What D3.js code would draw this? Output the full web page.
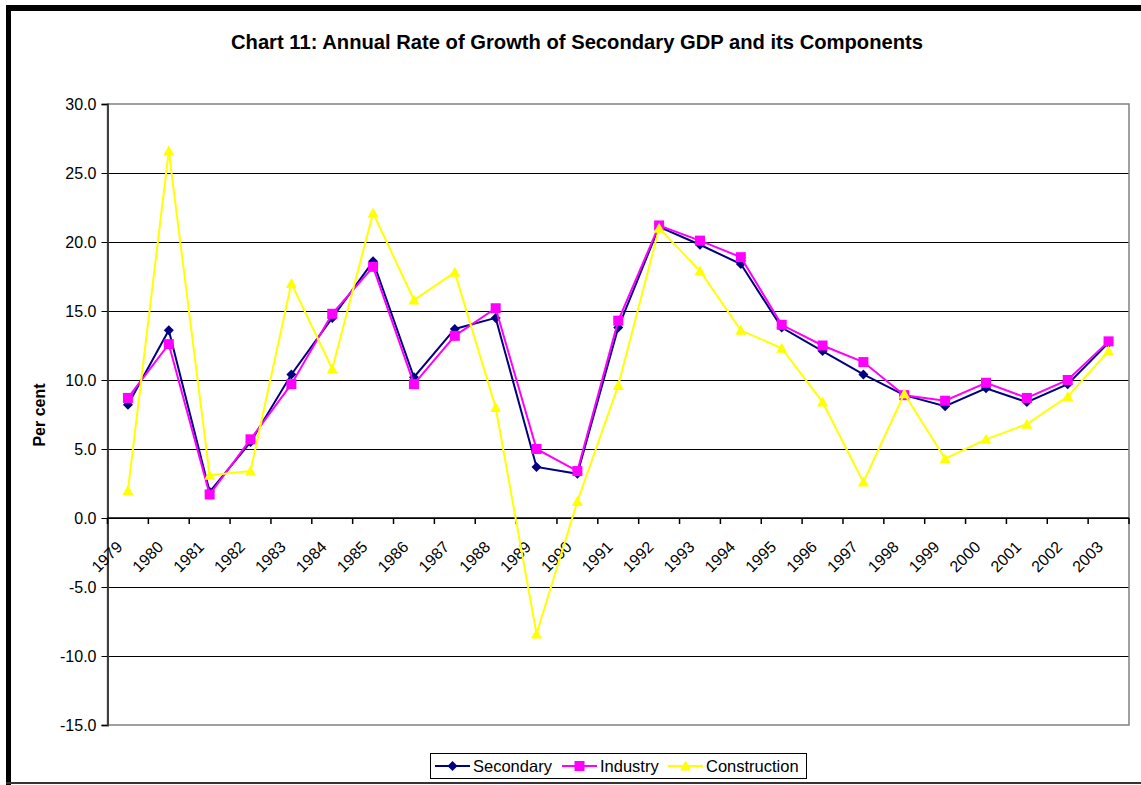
<!DOCTYPE html>
<html><head><meta charset="utf-8">
<script src="https://cdn.jsdelivr.net/npm/d3@7"></script>
<style>body{margin:0;background:#fff}svg{display:block}text{font-family:"Liberation Sans",Arial,sans-serif}</style>
</head><body>
<svg id="c" width="1141" height="785"></svg>
<script>
const years = ["1979","1980","1981","1982","1983","1984","1985","1986","1987","1988","1989","1990","1991","1992","1993","1994","1995","1996","1997","1998","1999","2000","2001","2002","2003"];
const secondary = [8.2,13.6,1.9,5.5,10.4,14.5,18.6,10.2,13.7,14.5,3.7,3.2,13.8,21.1,19.8,18.4,13.8,12.1,10.4,8.9,8.1,9.4,8.4,9.7,12.7];
const industry = [8.7,12.6,1.7,5.7,9.7,14.8,18.2,9.7,13.2,15.2,5.0,3.4,14.3,21.2,20.1,18.9,14.0,12.5,11.3,8.9,8.5,9.8,8.7,10.0,12.8];
const construction = [2.0,26.6,3.1,3.4,17.0,10.8,22.1,15.8,17.8,8.0,-8.4,1.2,9.6,21.0,17.9,13.6,12.3,8.4,2.6,9.0,4.3,5.7,6.8,8.8,12.1];
const yTicks = [-15,-10,-5,0,5,10,15,20,25,30];
const seriesNames = ["Secondary","Industry","Construction"];
const seriesColors = ["#000080","#FF00FF","#FFFF00"];
const seriesMarkers = ["diamond","square","triangle"];
const title = "Chart 11: Annual Rate of Growth of Secondary GDP and its Components";
const yTitle = "Per cent";

const svg = d3.select("#c");
const L = 107.5, R = 1129, T = 104, B = 725;
const x = d3.scaleBand().domain(years).range([L, R]).padding(0);
const y = d3.scaleLinear().domain([-15, 30]).range([B, T]);
const cx = d => x(d) + x.bandwidth() / 2;

// outer frame
svg.append("rect").attr("x",6).attr("y",5).attr("width",5).attr("height",780).attr("fill","#000");
svg.append("rect").attr("x",6).attr("y",5).attr("width",1135).attr("height",6).attr("fill","#000");
svg.append("line").attr("x1",6).attr("x2",1141).attr("y1",783).attr("y2",783).attr("stroke","#333").attr("stroke-width",2);

// title
svg.append("text").attr("x",577).attr("y",49).attr("text-anchor","middle")
  .attr("font-size",20.2).attr("font-weight","bold").text(title);

// gridlines
svg.append("g").selectAll("line").data(yTicks.filter(v => v > -15 && v < 30)).join("line")
  .attr("x1",L).attr("x2",R).attr("y1",d=>y(d)).attr("y2",d=>y(d))
  .attr("stroke","#000").attr("stroke-width",1).attr("shape-rendering","crispEdges");

// plot border
svg.append("rect").attr("x",L).attr("y",T).attr("width",R-L).attr("height",B-T)
  .attr("fill","none").attr("stroke","#808080").attr("stroke-width",1.5);

// y axis
const fmt = d3.format(".1f");
const yAxis = d3.axisLeft(y).tickValues(yTicks).tickSize(6).tickPadding(5).tickFormat(d => fmt(d).replace("\u2212","-"));
const gy = svg.append("g").attr("transform",`translate(${L},0)`).call(yAxis);
gy.select(".domain").attr("stroke","#404040").attr("stroke-width",2);
gy.selectAll(".tick line").attr("stroke","#000");
gy.selectAll(".tick text").attr("font-size",16).attr("fill","#000").style("font-family","'Liberation Sans',Arial,sans-serif");

// x axis at zero
svg.append("line").attr("x1",L).attr("x2",R).attr("y1",y(0)).attr("y2",y(0)).attr("stroke","#000").attr("stroke-width",1.5);
const bounds = years.map(d => x(d)).concat([R]);
svg.append("g").selectAll("line").data(bounds).join("line")
  .attr("x1",d=>d).attr("x2",d=>d).attr("y1",y(0)).attr("y2",y(0)+6).attr("stroke","#000").attr("stroke-width",1.5);
svg.append("g").selectAll("text").data(years).join("text")
  .attr("transform", d => `translate(${cx(d)-4.5},${y(0)+30}) rotate(-45)`)
  .attr("text-anchor","end").attr("font-size",16).attr("fill","#000").text(d=>d);

// y title
svg.append("text").attr("transform","translate(45,415) rotate(-90)").attr("text-anchor","middle")
  .attr("font-size",16).attr("font-weight","bold").text(yTitle);

function marker(g, type, color) {
  if (type === "diamond") g.append("path").attr("d","M0,-5L5,0L0,5L-5,0Z").attr("fill",color);
  else if (type === "square") g.append("rect").attr("x",-5).attr("y",-5).attr("width",10).attr("height",10).attr("fill",color);
  else g.append("path").attr("d","M0,-5.5L5.5,4.5L-5.5,4.5Z").attr("fill",color);
}

const allSeries = [secondary, industry, construction];
const line = d3.line().x((d,i)=>cx(years[i])).y(d=>y(d));
allSeries.forEach((vals, s) => {
  const g = svg.append("g");
  g.append("path").attr("d", line(vals)).attr("fill","none").attr("stroke",seriesColors[s]).attr("stroke-width",2);
  vals.forEach((v,i) => {
    const m = g.append("g").attr("transform",`translate(${cx(years[i])},${y(v)})`);
    marker(m, seriesMarkers[s], seriesColors[s]);
  });
});

// legend
const lg = svg.append("g");
lg.append("rect").attr("x",430.5).attr("y",753.5).attr("width",376).attr("height",25).attr("fill","#fff").attr("stroke","#000").attr("stroke-width",1);
const legendX = [435, 562, 668];
seriesNames.forEach((n,s) => {
  const gx = legendX[s];
  lg.append("line").attr("x1",gx).attr("x2",gx+35).attr("y1",766).attr("y2",766).attr("stroke",seriesColors[s]).attr("stroke-width",2);
  const m = lg.append("g").attr("transform",`translate(${gx+17.5},766)`);
  marker(m, seriesMarkers[s], seriesColors[s]);
  lg.append("text").attr("x",gx+38).attr("y",772).attr("font-size",16.5).attr("fill","#000").text(n);
});
</script>
</body></html>
